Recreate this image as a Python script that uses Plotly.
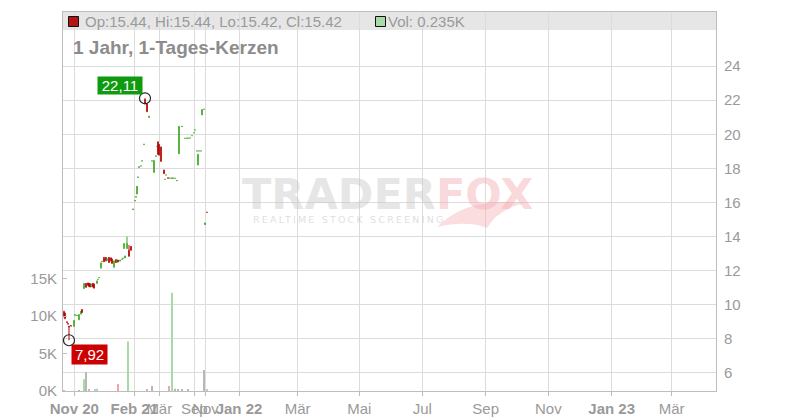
import plotly.graph_objects as go

# ---------------- data ----------------
SESSION = [1, 2, 4, 5, 6, 8, 11, 12, 14, 16, 18, 19,
           21, 23, 25, 26, 27, 29, 30, 31, 34, 35, 36,
           38, 39, 41, 43, 44, 46, 48, 49, 51, 53, 54, 55, 57, 59, 60, 61, 62,
           64, 66, 68, 70, 72, 73, 74, 75, 76, 78, 79, 81, 82, 84, 86,
           89, 91, 93, 94, 95, 96, 98, 101, 102, 103, 105, 107, 109, 110, 112, 114,
           116, 119, 122, 124, 125, 127, 129, 131, 132, 134, 135, 136, 138, 139, 141, 142, 144]
OPEN = [9.60, 9.50, 9.00, 8.90, 8.75, 8.78, 8.72, 9.38, 9.36, 9.12, 9.45, 9.72,
        10.95, 11.25, 11.28, 11.25, 11.24, 11.05, 11.25, 11.22, 11.25, 11.48, 11.58,
        12.15, 12.52, 12.78, 12.78, 12.60, 12.78, 12.75, 12.68, 12.20, 12.65, 12.50, 12.62, 12.56, 12.66, 12.72, 13.30, 12.75,
        13.30, 13.20, 13.42, 15.58, 16.08, 16.30, 16.50, 17.46, 18.05, 18.13, 18.42, 19.39, 22.05, 21.80, 20.98,
        18.42, 17.76, 18.70, 19.28, 19.55, 19.40, 19.25, 17.90, 17.35, 17.60, 17.45, 17.41, 17.41, 17.41, 17.41, 17.26,
        18.85, 20.44, 19.76, 19.76, 19.76, 19.77, 19.90, 20.08, 20.24, 19.01, 18.20, 19.01, 19.01, 21.13, 21.46, 14.70, 15.44]
HIGH = [9.65, 9.55, 9.02, 8.92, 8.76, 8.80, 9.10, 9.45, 9.40, 9.45, 9.65, 9.75,
        11.28, 11.28, 11.30, 11.28, 11.26, 11.25, 11.27, 11.24, 11.42, 11.50, 11.61,
        12.48, 12.55, 12.80, 12.80, 12.72, 12.80, 12.78, 12.70, 12.60, 12.67, 12.65, 12.63, 12.63, 12.68, 12.74, 13.62, 12.88,
        14.00, 13.50, 13.45, 15.62, 16.12, 16.35, 16.97, 17.50, 18.10, 18.15, 18.45, 19.42, 22.11, 21.82, 21.08,
        18.45, 18.50, 18.74, 19.30, 19.58, 19.42, 19.28, 17.92, 17.37, 17.62, 17.46, 17.44, 17.44, 17.44, 17.43, 17.29,
        20.50, 20.47, 19.78, 19.78, 19.78, 19.79, 19.92, 20.10, 20.26, 19.03, 18.85, 19.03, 19.03, 21.48, 21.48, 14.82, 15.44]
LOW = [9.25, 9.15, 8.95, 8.85, 7.92, 8.74, 8.72, 9.38, 9.36, 9.10, 9.45, 9.52,
       10.94, 11.00, 11.10, 11.05, 11.02, 11.04, 11.02, 10.95, 11.24, 11.48, 11.58,
       12.13, 12.52, 12.50, 12.55, 12.58, 12.45, 12.55, 12.40, 12.18, 12.45, 12.48, 12.50, 12.55, 12.66, 12.72, 13.28, 12.74,
       13.28, 12.82, 13.17, 15.58, 16.08, 16.30, 16.48, 17.46, 18.04, 18.13, 18.42, 19.39, 21.78, 21.30, 20.97,
       18.42, 17.75, 18.70, 19.28, 18.80, 18.75, 18.38, 17.66, 17.35, 17.60, 17.42, 17.41, 17.41, 17.41, 17.41, 17.26,
       18.84, 20.44, 19.76, 19.76, 19.76, 19.77, 19.90, 20.08, 20.24, 19.01, 18.18, 19.01, 19.01, 21.12, 21.46, 14.68, 15.42]
CLOSE = [9.30, 9.20, 8.97, 8.87, 8.70, 8.75, 9.08, 9.42, 9.39, 9.42, 9.62, 9.55,
         11.25, 11.03, 11.15, 11.08, 11.05, 11.22, 11.05, 10.98, 11.40, 11.50, 11.60,
         12.45, 12.55, 12.53, 12.58, 12.70, 12.48, 12.58, 12.43, 12.57, 12.48, 12.62, 12.52, 12.61, 12.68, 12.74, 13.58, 12.86,
         13.60, 12.85, 13.20, 15.62, 16.12, 16.35, 16.95, 17.50, 18.10, 18.15, 18.45, 19.42, 21.80, 21.33, 21.05,
         18.45, 18.45, 18.74, 19.30, 18.83, 18.78, 18.42, 17.70, 17.37, 17.62, 17.42, 17.44, 17.44, 17.44, 17.43, 17.29,
         20.45, 20.47, 19.78, 19.78, 19.78, 19.79, 19.92, 20.10, 20.26, 19.03, 18.82, 19.03, 19.03, 21.45, 21.48, 14.80, 15.42]

VOL_SESSION = [1, 16, 21, 23, 26, 32, 34, 55, 65, 84, 89, 106, 109, 112, 115, 119, 125, 141, 144]
VOL_K = [0.10, 0.10, 1.56, 2.53, 0.15, 0.15, 0.30, 0.93, 6.60, 0.15, 0.67, 0.67, 13.10, 0.30, 0.20, 0.15, 0.20, 2.80, 0.235]
VOL_DIR = ["down", "flat", "up", "flat", "down", "up", "up", "down", "up", "down", "flat", "down", "up",
           "flat", "flat", "flat", "flat", "flat", "up"]

TICK_POS = [11.3, 71.3, 96.3, 131.3, 142.5, 176, 234.7, 296.3, 359.3, 422.7, 485.3, 548.7, 608.7]
TICK_TEXT = ["<b>Nov 20</b>", "<b>Feb 21</b>", "Mär", "Sep", "Nov", "<b>Jan 22</b>", "Mär", "Mai",
             "Jul", "Sep", "Nov", "<b>Jan 23</b>", "Mär"]
PRICE_TICKS = [6, 8, 10, 12, 14, 16, 18, 20, 22, 24]
VOL_TICKS = [0, 5, 10, 15]

# ---------------- styling / layout helpers ----------------
W, H = 800, 420
PL, PR, PT, PB = 63, 716, 12, 391
FONT = "Liberation Sans, Arial, sans-serif"
GREY = "#9a9a9a"
UP, DOWN = "#3fa823", "#b30000"
VOL_COL = {"up": "#a6dba6", "down": "#f2a3ab", "flat": "#b8b8b8"}


def px(x):
    return (x - PL) / (PR - PL)


def py(y):
    return (PB - y) / (PB - PT)


fig = go.Figure()

fig.add_trace(go.Bar(
    x=VOL_SESSION, y=VOL_K, width=1.3,
    marker=dict(color=[VOL_COL[d] for d in VOL_DIR], line=dict(width=0)),
    yaxis="y", showlegend=False, hoverinfo="skip"))

fig.add_trace(go.Candlestick(
    x=SESSION, open=OPEN, high=HIGH, low=LOW, close=CLOSE,
    increasing=dict(line=dict(color=UP, width=1), fillcolor=UP),
    decreasing=dict(line=dict(color=DOWN, width=1), fillcolor=DOWN),
    whiskerwidth=0, yaxis="y2", showlegend=False, hoverinfo="skip"))

# extreme markers
i_hi = HIGH.index(max(HIGH))
i_lo = LOW.index(min(LOW))
fig.add_trace(go.Scatter(
    x=[SESSION[i_hi], SESSION[i_lo]], y=[HIGH[i_hi], LOW[i_lo]], mode="markers",
    marker=dict(symbol="circle-open", size=11, color="#222", line=dict(width=1.2)),
    yaxis="y2", showlegend=False, hoverinfo="skip"))

annotations = []


def fmt(v):
    return f"{v:.2f}".replace(".", ",")


annotations.append(dict(x=SESSION[i_hi], y=HIGH[i_hi], xref="x", yref="y2", text=fmt(HIGH[i_hi]),
                        showarrow=False, xshift=-25, yshift=13, bgcolor="#109a10", width=44, height=17,
                        font=dict(family=FONT, size=15, color="white"), borderpad=0))
annotations.append(dict(x=SESSION[i_lo], y=LOW[i_lo], xref="x", yref="y2", text=fmt(LOW[i_lo]),
                        showarrow=False, xshift=20.5, yshift=-14.5, bgcolor="#cc0000", width=35, height=19,
                        font=dict(family=FONT, size=15, color="white"), borderpad=0))

# header bar text
o, h, l, c = OPEN[-1], HIGH[-1], LOW[-1], CLOSE[-1]
annotations.append(dict(x=px(83), y=py(21.5), xref="paper", yref="paper", xanchor="left", yanchor="middle",
                        text=f"Op:{o:.2f}, Hi:{h:.2f}, Lo:{l:.2f}, Cl:{c:.2f}", showarrow=False,
                        font=dict(family=FONT, size=15, color=GREY)))
annotations.append(dict(x=px(386), y=py(21.5), xref="paper", yref="paper", xanchor="left", yanchor="middle",
                        text=f"Vol: {VOL_K[-1]:.3f}K", showarrow=False,
                        font=dict(family=FONT, size=15, color=GREY)))
annotations.append(dict(x=px(71), y=py(47.5), xref="paper", yref="paper", xanchor="left", yanchor="middle",
                        text="<b>1 Jahr, 1-Tages-Kerzen</b>", showarrow=False,
                        font=dict(family=FONT, size=19, color="#8c8c8c")))

# watermark
annotations.append(dict(x=px(387), y=py(194), xref="paper", yref="paper", xanchor="center", yanchor="middle",
                        text="<b><span style='color:rgba(200,200,200,0.45)'>TRADER</span>"
                             "<span style='color:rgba(245,170,178,0.45)'>FOX</span></b>",
                        showarrow=False, font=dict(family="DejaVu Sans", size=43), height=36))
annotations.append(dict(x=px(251), y=py(219.5), xref="paper", yref="paper", xanchor="left", yanchor="middle",
                        text="<span style='letter-spacing:2.2px'>REALTIME STOCK SCREENING</span>",
                        showarrow=False, font=dict(family="DejaVu Sans", size=9.5, color="rgba(190,190,190,0.5)")))

shapes = [
    dict(type="rect", xref="paper", yref="paper", x0=0, x1=1, y0=py(30), y1=1,
         fillcolor="#e6e6e6", line=dict(width=0), layer="below"),
    dict(type="rect", xref="paper", yref="paper", x0=px(68.5), x1=px(78.5), y0=py(26.5), y1=py(16.5),
         fillcolor="#b51515", line=dict(color="#111", width=1)),
    dict(type="rect", xref="paper", yref="paper", x0=px(375.5), x1=px(385.5), y0=py(26.5), y1=py(16.5),
         fillcolor="#a9dba9", line=dict(color="#111", width=1)),
    # fox tail of watermark
    dict(type="path", xref="paper", yref="paper",
         path=(f"M {px(437)},{py(227)} Q {px(468)},{py(196)} {px(524)},{py(203)} "
               f"Q {px(497)},{py(210)} {px(487)},{py(228)} Q {px(468)},{py(220)} {px(437)},{py(227)} Z"),
         fillcolor="rgba(245,170,178,0.4)", line=dict(width=0)),
]

fig.update_layout(
    width=W, height=H, autosize=False,
    margin=dict(l=PL, r=W - PR, t=PT, b=H - PB),
    paper_bgcolor="white", plot_bgcolor="white",
    font=dict(family=FONT, size=15, color=GREY),
    showlegend=False,
    annotations=annotations, shapes=shapes,
    xaxis=dict(range=[0, PR - PL], tickvals=TICK_POS, ticktext=TICK_TEXT, tickangle=0, automargin=False,
               showgrid=True, gridcolor="#dcdcdc", gridwidth=1, zeroline=False,
               showline=True, linecolor="#bdbdbd", mirror=True,
               ticks="outside", ticklen=4, tickcolor="#bdbdbd",
               tickfont=dict(family=FONT, size=15, color=GREY),
               rangeslider=dict(visible=False), fixedrange=True),
    yaxis=dict(range=[0, 50.53], tickvals=VOL_TICKS, ticktext=[f"{v}K" for v in VOL_TICKS], automargin=False,
               side="left", showgrid=False, zeroline=False, showline=True, linecolor="#bdbdbd",
               ticks="inside", ticklen=4, tickcolor="#bdbdbd", ticklabelstandoff=2,
               tickfont=dict(family=FONT, size=15, color=GREY)),
    yaxis2=dict(range=[4.944, 27.17], tickvals=PRICE_TICKS, overlaying="y", side="right", automargin=False,
                showgrid=True, gridcolor="#dcdcdc", zeroline=False, showline=True, linecolor="#bdbdbd",
                ticks="", ticklabelstandoff=4,
                tickfont=dict(family=FONT, size=15, color=GREY)),
)

fig.write_html("out.html", config={"responsive": False, "displayModeBar": False},
               post_script="document.body.style.margin='0';document.body.style.overflow='hidden';")
